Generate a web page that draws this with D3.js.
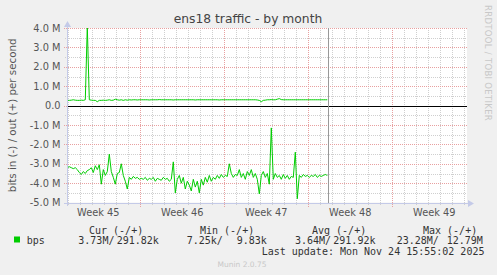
<!DOCTYPE html>
<html>
<head>
<meta charset="utf-8">
<script src="https://cdn.jsdelivr.net/npm/d3@7"></script>
<style>
  html, body { margin: 0; padding: 0; background: #f0f0f0; }
  svg { display: block; }
  text { font-family: "DejaVu Sans", sans-serif; }
  .mono { font-family: "DejaVu Sans Mono", monospace; white-space: pre; }
</style>
</head>
<body>
<div id="chart"></div>
<script>
// Values in Mbit/s, one sample every 4 hours from Nov 2 22:00
var sampleStart = Date.UTC(2025, 10, 2, 22, 0);
var sampleStepHours = 4;

var bpsIn = [
	3.2, 3.15, 3.2, 3.25, 3.2, 3.3, 3.45, 3.55, 3.4, 3.5,
	3.35, 3.3, 3.2, 3.45, 3.1, 3.3, 3.05, 4.05, 3.3, 3.6,
	3.4, 2.5, 3.4, 3.7, 4.05, 3.5, 3.45, 3.0, 3.6, 3.9,
	4.3, 3.7, 3.8, 3.65, 3.75, 3.7, 3.8, 3.75, 3.8, 3.7,
	3.85, 3.75, 3.8, 3.7, 3.9, 3.75, 3.8, 3.85, 3.7, 3.8,
	3.75, 3.9, 3.8, 2.9, 4.5, 3.8, 3.6, 4.0, 3.7, 4.3,
	3.9, 4.1, 4.4, 3.8, 4.2, 3.9, 4.5, 3.8, 4.1, 3.7,
	3.95, 3.6, 3.9, 3.7, 3.8, 3.6, 3.75, 3.55, 3.7, 3.6,
	3.65, 3.0, 3.5, 3.7, 3.55, 3.6, 3.3, 3.7, 3.5, 3.8,
	3.4, 3.6, 3.3, 3.7, 3.5, 3.8, 4.55, 3.6, 3.4, 3.7,
	3.5, 4.05, 1.15, 3.8, 3.5, 3.7, 3.6, 3.8, 3.55, 3.75,
	3.6, 3.8, 3.65, 3.7, 2.4, 4.8, 3.6, 3.7, 3.55, 3.65,
	3.6, 3.7, 3.6, 3.65, 3.55, 3.7, 3.6, 3.65, 3.6, 3.55,
	3.6
];

var bpsOut = [
	0.27, 0.27, 0.28, 0.3, 0.28, 0.27, 0.27, 0.28, 0.27, 0.3,
	4.1, 0.3, 0.28, 0.27, 0.27, 0.2, 0.27, 0.27, 0.28, 0.27,
	0.28, 0.3, 0.27, 0.28, 0.33, 0.3, 0.28, 0.3, 0.27, 0.3,
	0.28, 0.3, 0.29, 0.3, 0.3, 0.29, 0.3, 0.3, 0.3, 0.3,
	0.3, 0.29, 0.3, 0.3, 0.3, 0.3, 0.31, 0.3, 0.3, 0.3,
	0.3, 0.3, 0.3, 0.29, 0.3, 0.3, 0.3, 0.3, 0.3, 0.3,
	0.3, 0.3, 0.3, 0.3, 0.29, 0.3, 0.3, 0.3, 0.3, 0.3,
	0.3, 0.3, 0.3, 0.3, 0.3, 0.3, 0.29, 0.3, 0.3, 0.3,
	0.3, 0.3, 0.3, 0.3, 0.3, 0.3, 0.3, 0.3, 0.3, 0.3,
	0.3, 0.3, 0.3, 0.3, 0.3, 0.29, 0.27, 0.2, 0.27, 0.28,
	0.3, 0.3, 0.31, 0.3, 0.3, 0.33, 0.36, 0.31, 0.3, 0.3,
	0.3, 0.3, 0.3, 0.3, 0.3, 0.3, 0.3, 0.3, 0.3, 0.3,
	0.3, 0.3, 0.3, 0.3, 0.3, 0.3, 0.3, 0.3, 0.3, 0.3,
	0.3
];

var yTicks = [-5, -4, -3, -2, -1, 0, 1, 2, 3, 4];
var weekLabels = ["Week 45", "Week 46", "Week 47", "Week 48", "Week 49"];

var legendHeads = ["Cur (-/+)", "Min (-/+)", "Avg (-/+)", "Max (-/+)"];
var legendIn = ["3.73M/", "7.25k/", "3.64M/", "23.28M/"];
var legendOut = ["291.82k", "9.83k", "291.92k", "12.79M"];

var titleText = "ens18 traffic - by month";
var yLabelText = "bits in (-) / out (+) per second";
var lastUpdate = "Last update: Mon Nov 24 15:55:02 2025";
var nowTime = Date.UTC(2025, 10, 24, 15, 55);

var W = 497, H = 275;
var plotL = 67, plotR = 467, plotT = 28, plotB = 202.6;

var start = new Date(Date.UTC(2025, 10, 2, 21, 24));
var end = new Date(start.getTime() + 800 * 3600 * 1000);

var x = d3.scaleUtc().domain([start, end]).range([plotL, plotR]);
var y = d3.scaleLinear().domain([-5, 4]).range([plotB, plotT]);

var px = function(v) { return Math.floor(v) + 0.5; };
var py = function(v) { return Math.round(v) + 0.5; };

var svg = d3.select("#chart").append("svg")
	.attr("width", W)
	.attr("height", H);

svg.append("rect").attr("width", W).attr("height", H).attr("fill", "#f0f0f0");
svg.append("rect")
	.attr("x", plotL).attr("y", plotT)
	.attr("width", plotR - plotL).attr("height", plotB - plotT)
	.attr("fill", "#ffffff");

var grid = svg.append("g").attr("shape-rendering", "crispEdges");

// Minor grid: every day / every 0.5 M
var days = d3.utcDay.range(start, end);
var sundays = d3.utcSunday.range(start, end);
var isSunday = function(d) { return d.getUTCDay() === 0; };

grid.selectAll("line.vminor")
	.data(days.filter(function(d) { return !isSunday(d); }))
	.join("line")
	.attr("x1", function(d) { return px(x(d)); })
	.attr("x2", function(d) { return px(x(d)); })
	.attr("y1", plotT).attr("y2", plotB + 3)
	.attr("stroke", "#cfcfcf")
	.attr("stroke-dasharray", "1,1");

var halfTicks = yTicks.slice(0, -1).map(function(v) { return v + 0.5; });
grid.selectAll("line.hminor")
	.data(halfTicks)
	.join("line")
	.attr("x1", plotL - 2).attr("x2", plotR)
	.attr("y1", function(d) { return py(y(d)); })
	.attr("y2", function(d) { return py(y(d)); })
	.attr("stroke", "#cfcfcf")
	.attr("stroke-dasharray", "1,1");

// Major grid
grid.selectAll("line.vmajor")
	.data(sundays)
	.join("line")
	.attr("x1", function(d) { return px(x(d)); })
	.attr("x2", function(d) { return px(x(d)); })
	.attr("y1", plotT).attr("y2", plotB + 4)
	.attr("stroke", "#e8a0a0")
	.attr("stroke-dasharray", "1,1");

grid.selectAll("line.hmajor")
	.data(yTicks)
	.join("line")
	.attr("x1", plotL - 3).attr("x2", plotR)
	.attr("y1", function(d) { return py(y(d)); })
	.attr("y2", function(d) { return py(y(d)); })
	.attr("stroke", "#e8a0a0")
	.attr("stroke-dasharray", "1,1");

// Zero line
svg.append("line")
	.attr("shape-rendering", "crispEdges")
	.attr("x1", plotL).attr("x2", plotR)
	.attr("y1", py(y(0))).attr("y2", py(y(0)))
	.attr("stroke", "#000000");

// Series
svg.append("clipPath").attr("id", "plotclip")
	.append("rect")
	.attr("x", plotL).attr("y", plotT)
	.attr("width", plotR - plotL).attr("height", plotB - plotT);

var timeAt = function(i) { return new Date(sampleStart + i * sampleStepHours * 3600 * 1000); };

var line = d3.line()
	.x(function(d) { return x(d.t); })
	.y(function(d) { return y(d.v); });

var outPoints = bpsOut.map(function(v, i) { return { t: timeAt(i), v: v }; });
var inPoints = bpsIn.map(function(v, i) { return { t: timeAt(i), v: -v }; });

var series = svg.append("g").attr("clip-path", "url(#plotclip)");
[outPoints, inPoints].forEach(function(pts)
{
	series.append("path")
		.attr("d", line(pts))
		.attr("fill", "none")
		.attr("stroke", "#00cc00")
		.attr("stroke-width", 1);
});

// Now marker
svg.append("line")
	.attr("shape-rendering", "crispEdges")
	.attr("x1", px(x(nowTime))).attr("x2", px(x(nowTime)))
	.attr("y1", plotT).attr("y2", plotB + 1)
	.attr("stroke", "#999999");

// Axes
var axisColor = "#c4cae8";
svg.append("line")
	.attr("shape-rendering", "crispEdges")
	.attr("x1", px(plotL)).attr("x2", px(plotL))
	.attr("y1", plotT - 3).attr("y2", plotB + 3)
	.attr("stroke", axisColor);
svg.append("line")
	.attr("shape-rendering", "crispEdges")
	.attr("x1", plotL - 3).attr("x2", plotR + 3)
	.attr("y1", py(plotB)).attr("y2", py(plotB))
	.attr("stroke", axisColor);
svg.append("path")
	.attr("d", "M" + (plotL - 3) + "," + (plotT - 1) + "L" + (plotL + 0.5) + "," + (plotT - 7) + "L" + (plotL + 4) + "," + (plotT - 1) + "Z")
	.attr("fill", axisColor);
svg.append("path")
	.attr("d", "M" + (plotR + 1) + "," + (py(plotB) - 3.5) + "L" + (plotR + 7) + "," + py(plotB) + "L" + (plotR + 1) + "," + (py(plotB) + 3.5) + "Z")
	.attr("fill", axisColor);

// Y tick labels (plain hyphen, as rrdtool prints it)
var fmtY = function(v) { return v === 0 ? "0.0" : v.toFixed(1) + " M"; };
svg.append("g")
	.selectAll("text")
	.data(yTicks)
	.join("text")
	.attr("x", 60.5)
	.attr("y", function(d) { return y(d) + 3.5; })
	.attr("text-anchor", "end")
	.attr("font-size", "9.8px")
	.attr("fill", "#555555")
	.text(fmtY);

// Week labels, centred in each Sunday..Sunday span
var weekStarts = d3.utcSunday.range(new Date(Date.UTC(2025, 10, 2)), new Date(Date.UTC(2025, 11, 7)));
svg.append("g")
	.selectAll("text")
	.data(weekLabels)
	.join("text")
	.attr("x", function(d, i) { return x(d3.utcHour.offset(weekStarts[i], 84)); })
	.attr("y", 215.5)
	.attr("text-anchor", "middle")
	.attr("font-size", "9.8px")
	.attr("fill", "#555555")
	.text(function(d) { return d; });

// Title and labels
svg.append("text")
	.attr("x", 248).attr("y", 23)
	.attr("text-anchor", "middle")
	.attr("font-size", "12.3px")
	.attr("fill", "#444444")
	.text(titleText);

svg.append("text")
	.attr("transform", "translate(15.5," + ((plotT + plotB) / 2) + ") rotate(-90)")
	.attr("text-anchor", "middle")
	.attr("font-size", "10.3px")
	.attr("fill", "#555555")
	.text(yLabelText);

svg.append("text")
	.attr("transform", "translate(485,5) rotate(90)")
	.attr("font-size", "8.5px")
	.attr("letter-spacing", "0.3px")
	.attr("fill", "#c8c8c8")
	.text("RRDTOOL / TOBI OETIKER");

// Legend
svg.append("rect")
	.attr("x", 14).attr("y", 236.5)
	.attr("width", 6).attr("height", 6)
	.attr("fill", "#00cc00");

var mono = function(tx, ty, str)
{
	svg.append("text")
		.attr("class", "mono")
		.attr("x", tx).attr("y", ty)
		.attr("font-size", "10px")
		.attr("fill", "#333333")
		.text(str);
};

mono(26.7, 243.8, "bps");
var headX = [89, 200, 312, 423];
legendHeads.forEach(function(h, i) { mono(headX[i], 233.5, h); });
var inX = [78.3, 186.7, 295, 396.7];
var outX = [116.7, 236.7, 333.3, 446.7];
legendIn.forEach(function(v, i) { mono(inX[i], 243.8, v); });
legendOut.forEach(function(v, i) { mono(outX[i], 243.8, v); });
mono(261.7, 255.3, lastUpdate);

svg.append("text")
	.attr("x", 242).attr("y", 267)
	.attr("text-anchor", "middle")
	.attr("font-size", "7.5px")
	.attr("fill", "#c8c8c8")
	.text("Munin 2.0.75");
</script>
</body>
</html>
